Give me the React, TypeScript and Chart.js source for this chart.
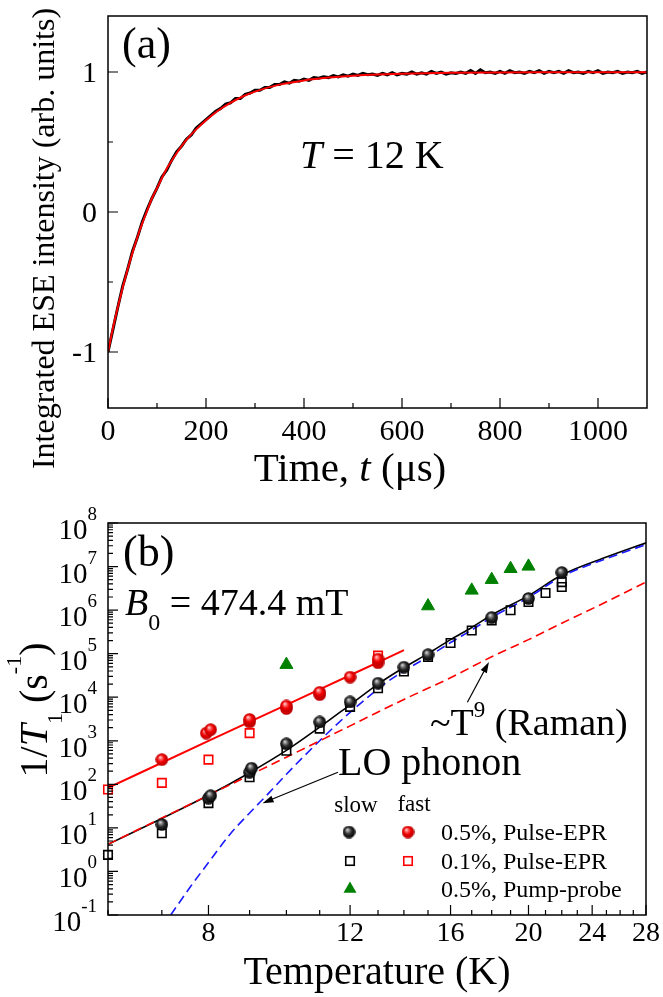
import React, { useEffect, useRef } from 'react';
import { Chart, registerables } from 'chart.js';

Chart.register(...registerables);

const SERIF = '"Liberation Serif", "Times New Roman", Times, serif';

// ---------------- Panel (a): ESE recovery at T = 12 K ----------------
const timeUs = [
  0, 10, 20, 30, 40, 50, 60, 70, 80, 90,
  100, 110, 120, 130, 140, 150, 160, 170, 180, 190,
  200, 210, 220, 230, 240, 250, 260, 270, 280, 290,
  300, 310, 320, 330, 340, 350, 360, 370, 380, 390,
  400, 410, 420, 430, 440, 450, 460, 470, 480, 490,
  500, 510, 520, 530, 540, 550, 560, 570, 580, 590,
  600, 610, 620, 630, 640, 650, 660, 670, 680, 690,
  700, 710, 720, 730, 740, 750, 760, 770, 780, 790,
  800, 810, 820, 830, 840, 850, 860, 870, 880, 890,
  900, 910, 920, 930, 940, 950, 960, 970, 980, 990,
  1000, 1010, 1020, 1030, 1040, 1050, 1060, 1070, 1080, 1090,
  1100,
];
const eseSignal = [
  -1.0, -0.84, -0.68, -0.53, -0.41, -0.28, -0.18, -0.07, 0.02, 0.1,
  0.17, 0.25, 0.3, 0.37, 0.43, 0.47, 0.52, 0.55, 0.6, 0.63,
  0.66, 0.69, 0.72, 0.74, 0.77, 0.78, 0.81, 0.81, 0.84, 0.85,
  0.87, 0.87, 0.89, 0.89, 0.91, 0.91, 0.93, 0.92, 0.94, 0.935,
  0.95, 0.94, 0.96, 0.955, 0.965, 0.96, 0.975, 0.965, 0.98, 0.97,
  0.985, 0.975, 0.99, 0.98, 0.985, 0.975, 0.99, 0.98, 0.995, 0.98,
  0.99, 0.985, 1.0, 0.985, 0.995, 0.985, 1.005, 0.99, 1.0, 0.985,
  0.995, 0.99, 1.0, 0.99, 1.01, 0.99, 1.015, 0.995, 1.0, 0.99,
  1.005, 0.99, 1.01, 0.995, 1.0, 0.99, 1.005, 0.995, 1.01, 0.99,
  1.005, 0.995, 1.005, 0.99, 1.01, 0.995, 1.0, 0.99, 1.005, 0.995,
  1.01, 0.99, 1.0, 0.995, 1.005, 0.99, 1.0, 0.995, 1.005, 0.99,
  1.0,
];
const fitTimeUs = [0, 10, 20, 30, 40, 50, 60, 70, 80, 90, 100, 120, 140, 160, 180, 200, 225, 250, 275, 300, 350, 400, 450, 500, 550, 600, 700, 800, 900, 1000, 1100];
const fitSignal = [-1.0, -0.83, -0.68, -0.54, -0.41, -0.29, -0.18, -0.08, 0.01, 0.1, 0.17, 0.31, 0.42, 0.515, 0.59, 0.655, 0.725, 0.78, 0.825, 0.86, 0.91, 0.94, 0.96, 0.973, 0.982, 0.988, 0.994, 0.997, 0.998, 0.999, 0.999];
const timeTickValues = [0, 200, 400, 600, 800, 1000];
const timeMinorTicks = [100, 300, 500, 700, 900];
const signalTickValues = [-1, 0, 1];
const signalMinorTicks = [-0.5, 0.5];

// ---------------- Panel (b): 1/T1 vs temperature ----------------
const fitSlowT = [6, 7, 8, 9, 10, 11, 12, 13, 14, 15, 16, 17, 18, 20, 22, 25, 28];
const fitSlowRate = [4.2, 16.5, 56, 185, 600, 2050, 6700, 20000, 48000, 100000, 210000, 400000, 770000, 2150000, 6400000, 16500000, 35000000];
const fitFastT = [6, 8, 10, 12, 14];
const fitFastRate = [83, 990, 6700, 32000, 120000];
const ramanT = [6, 8, 10, 12, 14, 16, 18, 20, 22, 25, 28];
const ramanRate = [4.2, 56, 420, 2200, 8900, 28000, 85000, 210000, 500000, 1550000, 4400000];
const loPhononT = [7.18, 7.6, 8, 8.5, 9, 9.5, 10, 10.5, 11, 11.5, 12, 12.5, 13, 13.5, 14, 15, 16, 17, 18, 20, 22, 25, 28];
const loPhononRate = [0.1, 0.45, 1.6, 7, 22, 62, 170, 430, 1000, 2200, 4500, 8500, 15500, 26000, 40000, 85000, 180000, 350000, 680000, 1950000, 5900000, 15200000, 32000000];

const slowPulse05T = [7, 8, 8.05, 9, 9.05, 10, 11, 12, 13, 14, 15, 18, 20, 22];
const slowPulse05Rate = [12, 48, 55, 190, 235, 850, 2700, 7800, 21000, 49000, 95000, 680000, 1850000, 7300000];
const slowPulse01T = [6, 7, 8, 9, 10, 11, 12, 13, 14, 15, 16, 17, 18, 19, 20, 21, 22, 22];
const slowPulse01Rate = [2.4, 7.5, 37, 145, 590, 1900, 6000, 16000, 39000, 84000, 176000, 340000, 580000, 990000, 1530000, 2470000, 3400000, 4400000];
const fastPulse05T = [7, 7.95, 8.05, 9, 9, 10, 10, 11, 11, 12, 13, 13];
const fastPulse05Rate = [370, 1500, 1800, 2700, 3100, 5500, 6300, 11500, 13000, 29000, 62000, 75000];
const fastPulse01T = [6, 7, 8, 9, 13];
const fastPulse01Rate = [76, 108, 370, 1500, 90000];
const pumpProbeT = [10, 15, 17, 18, 19, 20];
const pumpProbeRate = [56000, 1240000, 2840000, 5000000, 8900000, 10100000];

const tempTickValues = [6, 7, 8, 9, 10, 11, 12, 13, 14, 15, 16, 17, 18, 19, 20, 21, 22, 23, 24, 25, 26, 27, 28];
const tempTickLabels = [8, 12, 16, 20, 24, 28];
const rateExponents = [-1, 0, 1, 2, 3, 4, 5, 6, 7, 8];

const loArrowFrom = [11.59, 190];
const loArrowTo = [9.34, 37];
const ramanArrowFrom = [16.79, 7670];
const ramanArrowTo = [17.86, 64600];

type Run = { t: string; size: number; italic?: boolean; dy?: number };

function drawRuns(ctx: CanvasRenderingContext2D, runs: Run[], x: number, y: number, align: 'left' | 'center' | 'right') {
  const fontOf = (r: Run) => `${r.italic ? 'italic ' : ''}${r.size}px ${SERIF}`;
  let total = 0;
  for (const r of runs) {
    ctx.font = fontOf(r);
    total += ctx.measureText(r.t).width;
  }
  let cx = align === 'center' ? x - total / 2 : align === 'right' ? x - total : x;
  ctx.textAlign = 'left';
  ctx.textBaseline = 'alphabetic';
  for (const r of runs) {
    ctx.font = fontOf(r);
    ctx.fillText(r.t, cx, y + (r.dy || 0));
    cx += ctx.measureText(r.t).width;
  }
}

function drawArrow(ctx: CanvasRenderingContext2D, x1: number, y1: number, x2: number, y2: number) {
  const ang = Math.atan2(y2 - y1, x2 - x1);
  const hl = 11;
  const hw = 3.5;
  ctx.beginPath();
  ctx.moveTo(x1, y1);
  ctx.lineTo(x2 - Math.cos(ang) * hl * 0.8, y2 - Math.sin(ang) * hl * 0.8);
  ctx.stroke();
  ctx.beginPath();
  ctx.moveTo(x2, y2);
  ctx.lineTo(x2 - hl * Math.cos(ang) + hw * Math.sin(ang), y2 - hl * Math.sin(ang) - hw * Math.cos(ang));
  ctx.lineTo(x2 - hl * Math.cos(ang) - hw * Math.sin(ang), y2 - hl * Math.sin(ang) + hw * Math.cos(ang));
  ctx.closePath();
  ctx.fill();
}

function makeSphere(size: number, stops: [number, string][]) {
  const c = document.createElement('canvas');
  c.width = size;
  c.height = size;
  const g = c.getContext('2d')!;
  const r = size / 2;
  const grad = g.createRadialGradient(r * 0.72, r * 0.62, 0, r, r, r);
  for (const [o, col] of stops) grad.addColorStop(o, col);
  g.fillStyle = grad;
  g.beginPath();
  g.arc(r, r, r - 0.2, 0, Math.PI * 2);
  g.fill();
  return c;
}

const pts = (xs: number[], ys: number[]) => xs.map((v, i) => ({ x: v, y: ys[i] }));

export default function App() {
  const refA = useRef<HTMLCanvasElement>(null);
  const refB = useRef<HTMLCanvasElement>(null);

  useEffect(() => {
    const blackSphere = makeSphere(13, [[0, '#f2f2f2'], [0.25, '#8a8a8a'], [0.55, '#2a2a2a'], [1, '#000000']]);
    const redSphere = makeSphere(13, [[0, '#fff4f4'], [0.22, '#ff7a7a'], [0.55, '#f20000'], [1, '#b00000']]);

    const pluginA = {
      id: 'decoA',
      afterDraw(chart: any) {
        const { ctx, chartArea: a } = chart;
        const x = chart.scales.x;
        const y = chart.scales.y;
        ctx.save();
        ctx.strokeStyle = '#000';
        ctx.fillStyle = '#000';
        ctx.lineWidth = 1.5;
        ctx.strokeRect(a.left, a.top, a.right - a.left, a.bottom - a.top);
        ctx.lineWidth = 1.2;
        ctx.beginPath();
        for (const v of timeTickValues) {
          const px = x.getPixelForValue(v);
          ctx.moveTo(px, a.bottom);
          ctx.lineTo(px, a.bottom - 10);
        }
        for (const v of timeMinorTicks) {
          const px = x.getPixelForValue(v);
          ctx.moveTo(px, a.bottom);
          ctx.lineTo(px, a.bottom - 5);
        }
        for (const v of signalTickValues) {
          const py = y.getPixelForValue(v);
          ctx.moveTo(a.left, py);
          ctx.lineTo(a.left + 10, py);
        }
        for (const v of signalMinorTicks) {
          const py = y.getPixelForValue(v);
          ctx.moveTo(a.left, py);
          ctx.lineTo(a.left + 5, py);
        }
        ctx.stroke();

        ctx.font = `30px ${SERIF}`;
        ctx.textAlign = 'center';
        ctx.textBaseline = 'alphabetic';
        for (const v of timeTickValues) ctx.fillText(String(v), x.getPixelForValue(v), a.bottom + 32);
        ctx.textAlign = 'right';
        for (const v of signalTickValues) ctx.fillText(String(v), a.left - 11, y.getPixelForValue(v) + 10);

        drawRuns(ctx, [{ t: 'Time, ', size: 41 }, { t: 't', size: 41, italic: true }, { t: ' (μs)', size: 41 }], 350, 481, 'center');

        ctx.save();
        ctx.translate(54, 238.5);
        ctx.rotate(-Math.PI / 2);
        ctx.font = `32px ${SERIF}`;
        ctx.textAlign = 'center';
        ctx.textBaseline = 'alphabetic';
        ctx.fillText('Integrated ESE intensity (arb. units)', 0, 0);
        ctx.restore();

        drawRuns(ctx, [{ t: '(a)', size: 44 }], 122, 58, 'left');
        drawRuns(ctx, [{ t: 'T', size: 40, italic: true }, { t: ' = 12 K', size: 40 }], 300, 168, 'left');
        ctx.restore();
      },
    };

    const pluginB = {
      id: 'decoB',
      afterDraw(chart: any) {
        const { ctx, chartArea: a } = chart;
        const x = chart.scales.x;
        const y = chart.scales.y;
        const P = (t: number, v: number) => [x.getPixelForValue(t), y.getPixelForValue(v)];
        ctx.save();
        ctx.strokeStyle = '#000';
        ctx.fillStyle = '#000';
        ctx.lineWidth = 1.5;
        ctx.strokeRect(a.left, a.top, a.right - a.left, a.bottom - a.top);
        ctx.lineWidth = 1.2;
        ctx.beginPath();
        for (const t of tempTickValues) {
          const px = x.getPixelForValue(t);
          const len = tempTickLabels.includes(t) ? 10 : 5;
          ctx.moveTo(px, a.bottom);
          ctx.lineTo(px, a.bottom - len);
        }
        for (let i = 0; i < rateExponents.length; i++) {
          const e = rateExponents[i];
          const py = y.getPixelForValue(Math.pow(10, e));
          ctx.moveTo(a.left, py);
          ctx.lineTo(a.left + 10, py);
          if (i < rateExponents.length - 1) {
            for (let k = 2; k <= 9; k++) {
              const pm = y.getPixelForValue(k * Math.pow(10, e));
              ctx.moveTo(a.left, pm);
              ctx.lineTo(a.left + 5, pm);
            }
          }
        }
        ctx.stroke();

        ctx.font = `28px ${SERIF}`;
        ctx.textAlign = 'center';
        ctx.textBaseline = 'alphabetic';
        for (const t of tempTickLabels) ctx.fillText(String(t), x.getPixelForValue(t), a.bottom + 26);
        for (const e of rateExponents) {
          const py = y.getPixelForValue(Math.pow(10, e));
          drawRuns(ctx, [{ t: '10', size: 29 }, { t: String(e), size: 19, dy: -19 }], a.left - 11, py + 16, 'right');
        }

        drawRuns(ctx, [{ t: 'Temperature (K)', size: 40 }], (a.left + a.right) / 2, 484, 'center');

        ctx.save();
        ctx.translate(47, 210);
        ctx.rotate(-Math.PI / 2);
        drawRuns(ctx, [
          { t: '1/', size: 40 },
          { t: 'T', size: 40, italic: true },
          { t: '1', size: 22, dy: 15 },
          { t: ' (s', size: 40 },
          { t: '-1', size: 22, dy: -26 },
          { t: ')', size: 40 },
        ], 0, 0, 'center');
        ctx.restore();

        drawRuns(ctx, [{ t: '(b)', size: 44 }], 123, 66, 'left');
        drawRuns(ctx, [{ t: 'B', size: 38, italic: true }, { t: '0', size: 24, dy: 15 }, { t: ' = 474.4 mT', size: 38 }], 125, 115, 'left');
        drawRuns(ctx, [{ t: 'LO phonon', size: 40 }], 338, 275, 'left');
        drawRuns(ctx, [{ t: '~T', size: 38 }, { t: '9', size: 23, dy: -18 }, { t: ' (Raman)', size: 38 }], 430, 235, 'left');

        ctx.lineWidth = 1.2;
        const [l1x, l1y] = P(loArrowFrom[0], loArrowFrom[1]);
        const [l2x, l2y] = P(loArrowTo[0], loArrowTo[1]);
        drawArrow(ctx, l1x, l1y, l2x, l2y);
        const [r1x, r1y] = P(ramanArrowFrom[0], ramanArrowFrom[1]);
        const [r2x, r2y] = P(ramanArrowTo[0], ramanArrowTo[1]);
        drawArrow(ctx, r1x, r1y, r2x, r2y);

        // legend
        drawRuns(ctx, [{ t: 'slow', size: 23 }], 356, 312, 'center');
        drawRuns(ctx, [{ t: 'fast', size: 23 }], 414, 311, 'center');
        ctx.drawImage(blackSphere, 349 - 6.5, 332 - 6.5);
        ctx.drawImage(redSphere, 408 - 6.5, 332 - 6.5);
        ctx.lineWidth = 1.6;
        ctx.strokeStyle = '#000';
        ctx.strokeRect(350 - 4.25, 361 - 4.25, 8.5, 8.5);
        ctx.strokeStyle = '#ff0000';
        ctx.strokeRect(408 - 4.25, 361 - 4.25, 8.5, 8.5);
        ctx.fillStyle = '#008000';
        ctx.beginPath();
        ctx.moveTo(350, 389 - 7.5);
        ctx.lineTo(350 + 6.5, 389 + 3.75);
        ctx.lineTo(350 - 6.5, 389 + 3.75);
        ctx.closePath();
        ctx.fill();
        ctx.fillStyle = '#000';
        drawRuns(ctx, [{ t: '0.5%, Pulse-EPR', size: 24 }], 441, 340, 'left');
        drawRuns(ctx, [{ t: '0.1%, Pulse-EPR', size: 24 }], 441, 369, 'left');
        drawRuns(ctx, [{ t: '0.5%, Pump-probe', size: 24 }], 441, 397, 'left');
        ctx.restore();
      },
    };

    const chartA = new Chart(refA.current!, {
      type: 'scatter',
      data: {
        datasets: [
          { data: pts(fitTimeUs, fitSignal), showLine: true, borderColor: '#ff0000', borderWidth: 2, pointRadius: 0, cubicInterpolationMode: 'monotone' } as any,
          { data: pts(timeUs, eseSignal), showLine: true, borderColor: '#000000', borderWidth: 3, pointRadius: 0 } as any,
        ],
      },
      options: {
        responsive: false,
        animation: false,
        events: [],
        layout: { padding: { left: 108, top: 16, right: 16, bottom: 92 } },
        scales: {
          x: { type: 'linear', min: 0, max: 1100, display: false, bounds: 'data' },
          y: { type: 'linear', min: -1.4, max: 1.4, display: false, bounds: 'data' },
        },
        plugins: { legend: { display: false }, tooltip: { enabled: false } },
      } as any,
      plugins: [pluginA],
    });

    const lineDs = (xs: number[], ys: number[], color: string, width: number, dash: number[] = []) => ({
      data: pts(xs, ys), showLine: true, borderColor: color, borderWidth: width, borderDash: dash,
      pointRadius: 0, cubicInterpolationMode: 'monotone',
    });

    const chartB = new Chart(refB.current!, {
      type: 'scatter',
      data: {
        datasets: [
          { data: pts(pumpProbeT, pumpProbeRate), pointStyle: 'triangle', pointRadius: 7.5, backgroundColor: '#008000', borderColor: '#008000', borderWidth: 1, clip: false },
          { data: pts(fastPulse05T, fastPulse05Rate), pointStyle: redSphere, pointRadius: 6, clip: false },
          { data: pts(slowPulse05T, slowPulse05Rate), pointStyle: blackSphere, pointRadius: 6, clip: false },
          { data: pts(fastPulse01T, fastPulse01Rate), pointStyle: 'rect', pointRadius: 6, backgroundColor: 'rgba(255,255,255,0)', borderColor: '#ff0000', borderWidth: 1.6, clip: false },
          { data: pts(slowPulse01T, slowPulse01Rate), pointStyle: 'rect', pointRadius: 6, backgroundColor: 'rgba(255,255,255,0)', borderColor: '#000000', borderWidth: 1.6, clip: false },
          lineDs(ramanT, ramanRate, '#ff0000', 1.6, [9, 5]),
          lineDs(loPhononT, loPhononRate, '#1a1aff', 1.6, [9, 5]),
          lineDs(fitFastT, fitFastRate, '#ff0000', 2),
          lineDs(fitSlowT, fitSlowRate, '#000000', 1.6),
        ] as any,
      },
      options: {
        responsive: false,
        animation: false,
        events: [],
        layout: { padding: { left: 108, top: 23, right: 17, bottom: 82 } },
        scales: {
          x: { type: 'logarithmic', min: 6, max: 28, display: false, bounds: 'data' },
          y: { type: 'logarithmic', min: 0.1, max: 1e8, display: false, bounds: 'data' },
        },
        plugins: { legend: { display: false }, tooltip: { enabled: false } },
      } as any,
      plugins: [pluginB],
    });

    return () => {
      chartA.destroy();
      chartB.destroy();
    };
  }, []);

  return (
    <div style={{ position: 'absolute', left: 0, top: 0, width: 663, height: 997, background: '#ffffff' }}>
      <canvas ref={refA} width={663} height={500} style={{ position: 'absolute', left: 0, top: 0, width: 663, height: 500 }} />
      <canvas ref={refB} width={663} height={497} style={{ position: 'absolute', left: 0, top: 500, width: 663, height: 497 }} />
    </div>
  );
}
